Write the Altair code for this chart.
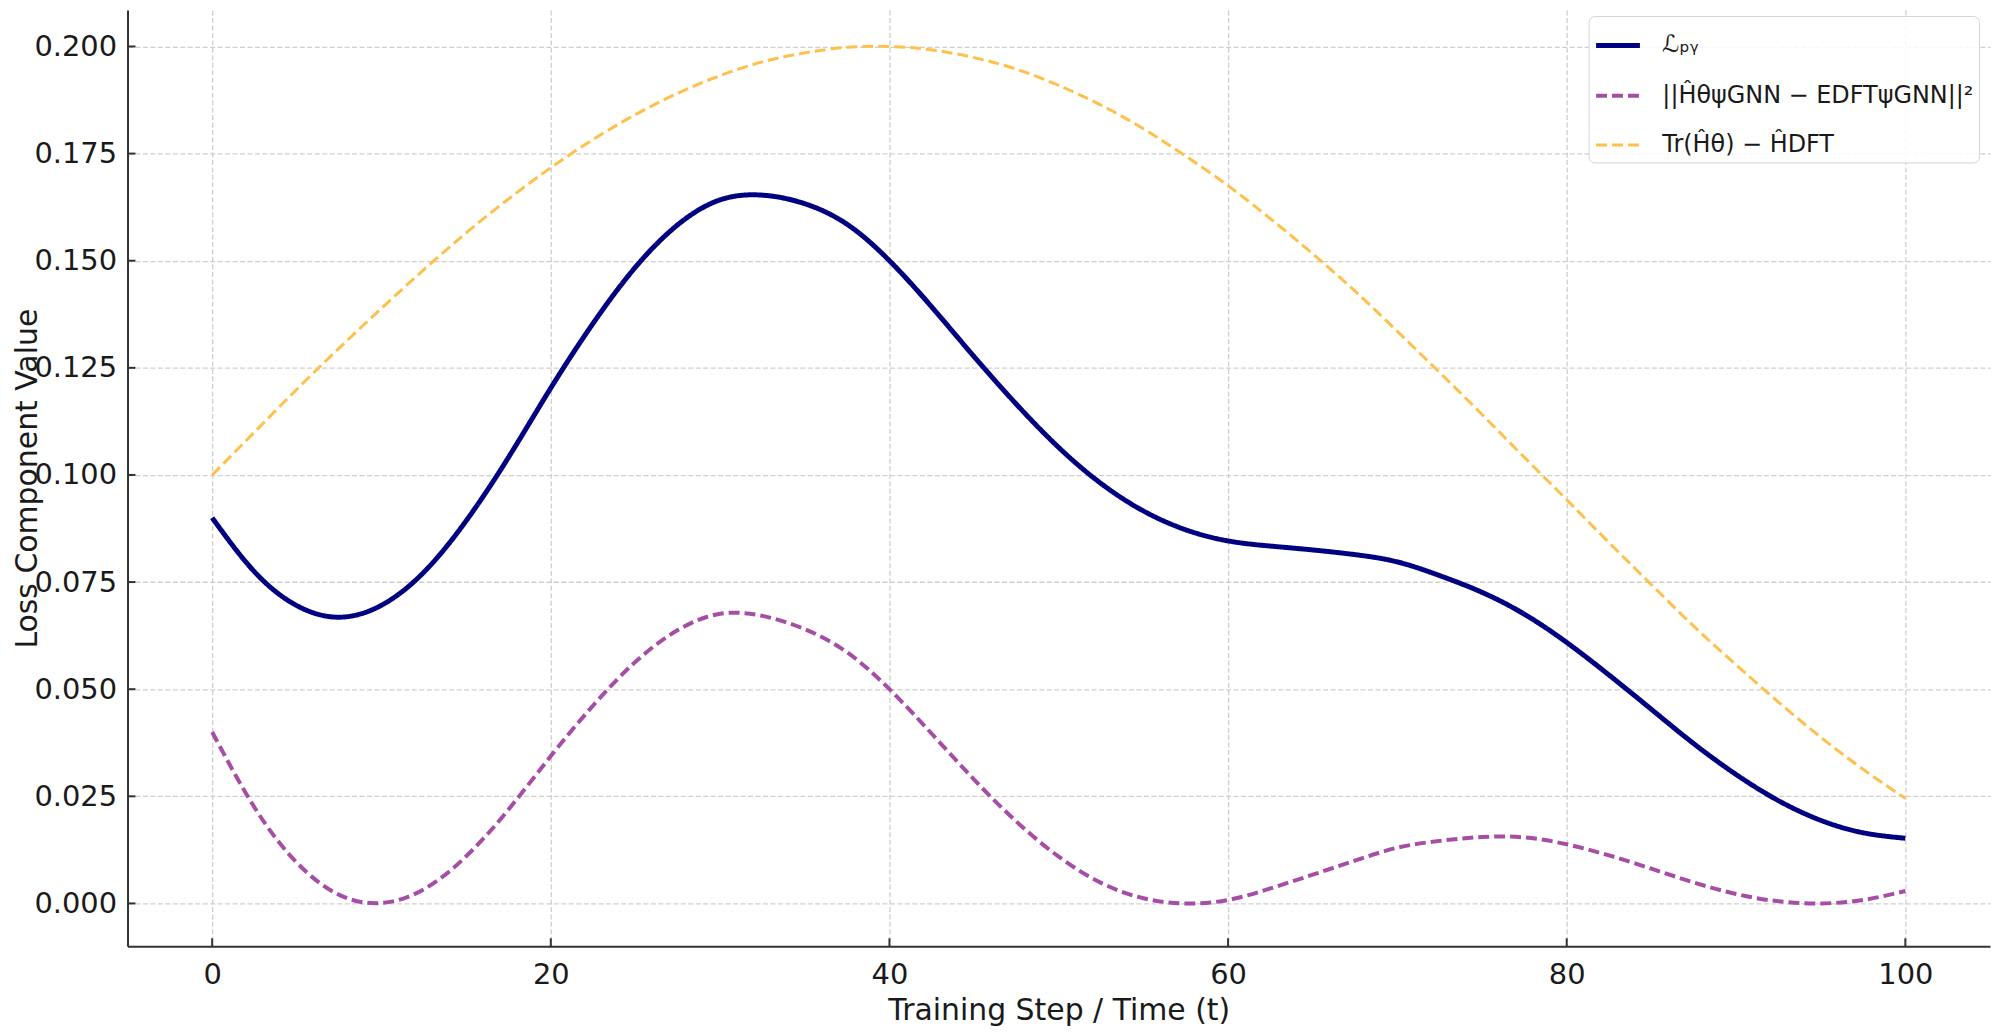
import altair as alt
import pandas as pd

FONT = "DejaVu Sans"

# ---- data ----
t = [0, 2.5, 5, 7.5, 10, 12.5, 15, 17.5, 20, 22.5, 25, 27.5, 30, 32.5, 35, 37.5,
     40, 42.5, 45, 47.5, 50, 52.5, 55, 57.5, 60, 62.5, 65, 67.5, 70, 72.5, 75,
     77.5, 80, 82.5, 85, 87.5, 90, 92.5, 95, 97.5, 100]

series_names = ["ℒₚᵧ", "||ĤθψGNN − EDFTψGNN||²", "Tr(Ĥθ) − ĤDFT"]

l_py = [0.0900, 0.0774, 0.0695, 0.0668, 0.0696, 0.0773, 0.0893, 0.1041, 0.1203,
        0.1354, 0.1485, 0.1584, 0.1642, 0.1653, 0.1633, 0.1585, 0.1500, 0.1392,
        0.1276, 0.1165, 0.1064, 0.0980, 0.0916, 0.0872, 0.0846, 0.0834, 0.0825,
        0.0814, 0.0797, 0.0765, 0.0726, 0.0675, 0.0609, 0.0533, 0.0453, 0.0373,
        0.0301, 0.0240, 0.0194, 0.0165, 0.0152]

residual = [0.0400, 0.0224, 0.0095, 0.0020, 0.0001, 0.0033, 0.0110, 0.0219, 0.0344,
            0.0462, 0.0564, 0.0638, 0.0676, 0.0671, 0.0640, 0.0586, 0.0500, 0.0396,
            0.0289, 0.0191, 0.0109, 0.0048, 0.0012, 0.0000, 0.0008, 0.0035, 0.0067,
            0.0100, 0.0130, 0.0146, 0.0155, 0.0154, 0.0138, 0.0112, 0.0081, 0.0049,
            0.0022, 0.0005, 0.0000, 0.0008, 0.0029]

trace = [0.1000, 0.1100, 0.1200, 0.1296, 0.1389, 0.1479, 0.1565, 0.1644, 0.1717,
         0.1783, 0.1841, 0.1891, 0.1932, 0.1964, 0.1985, 0.1998, 0.2000, 0.1992,
         0.1974, 0.1947, 0.1909, 0.1863, 0.1808, 0.1744, 0.1675, 0.1598, 0.1516,
         0.1429, 0.1335, 0.1239, 0.1141, 0.1041, 0.0942, 0.0842, 0.0744, 0.0647,
         0.0557, 0.0470, 0.0388, 0.0313, 0.0245]

x_ticks = [0, 20, 40, 60, 80, 100]
y_ticks = [0.0, 0.025, 0.05, 0.075, 0.1, 0.125, 0.15, 0.175, 0.2]

colors = ["#000080", "#A64DA6", "#FFC04C"]
dashes = [[1, 0], [11, 5], [11, 5]]
widths = [5, 3, 3]

rows = []
for name, vals in zip(series_names, [l_py, residual, trace]):
    for tt, v in zip(t, vals):
        rows.append({"series": name, "t": tt, "value": v})
df = pd.DataFrame(rows)

W, H = 1870, 940
xscale = alt.Scale(domain=[-5, 105], nice=False, zero=False)
yscale = alt.Scale(domain=[-0.01, 0.2085], nice=False, zero=False)

xaxis = alt.Axis(values=x_ticks, format="d", title="Training Step / Time (t)",
                 labelPadding=14, ticks=False, titleY=74, titleX=W / 2,
                 titleBaseline="alphabetic")
yaxis = alt.Axis(values=y_ticks, format=".3f", title="Loss Component Value",
                 labelPadding=11, ticks=False, titleX=-85, titleY=H / 2,
                 titleAngle=270, titleBaseline="bottom", titleAlign="center")

legend = alt.Legend(
    title=None, orient="none", legendX=1467, legendY=6,
    symbolType="stroke", symbolSize=1936, labelFontSize=24, labelFont=FONT,
    labelColor="#1a1a1a", labelOffset=20, labelLimit=600, rowPadding=14,
    padding=5, cornerRadius=6, strokeColor="#d5d5d5",
    fillColor="rgba(255,255,255,0.85)",
)

lines = alt.Chart(df).mark_line(interpolate="natural").encode(
    x=alt.X("t:Q", scale=xscale, axis=xaxis),
    y=alt.Y("value:Q", scale=yscale, axis=yaxis),
    color=alt.Color("series:N", scale=alt.Scale(domain=series_names, range=colors), legend=legend),
    strokeDash=alt.StrokeDash("series:N", scale=alt.Scale(domain=series_names, range=dashes), legend=legend),
    strokeWidth=alt.StrokeWidth("series:N", scale=alt.Scale(domain=series_names, range=widths), legend=legend),
)

ytick_rules = alt.Chart(pd.DataFrame({"v": y_ticks})).mark_rule(
    color="#333333", strokeWidth=2).encode(
    y=alt.Y("v:Q", scale=yscale, axis=yaxis),
    x=alt.value(0), x2=alt.value(8))

xtick_rules = alt.Chart(pd.DataFrame({"v": x_ticks})).mark_rule(
    color="#333333", strokeWidth=2).encode(
    x=alt.X("v:Q", scale=xscale, axis=xaxis),
    y=alt.value(H), y2=alt.value(H - 8))

chart = alt.layer(lines, ytick_rules, xtick_rules).properties(
    width=W, height=H,
    autosize=alt.AutoSizeParams(type="none"),
    padding={"left": 120, "top": 0, "right": 2, "bottom": 79},
).configure(font=FONT).configure_view(stroke=None).configure_axis(
    labelFont=FONT, titleFont=FONT, labelFontSize=29, titleFontSize=30,
    titleFontWeight="normal", labelColor="#1a1a1a", titleColor="#1a1a1a",
    domainColor="#333333", domainWidth=2,
    grid=True, gridColor="#cfcfcf", gridDash=[5, 2.5], gridWidth=1.3,
)

chart.save("out.html", embed_options={"renderer": "svg", "actions": False})
